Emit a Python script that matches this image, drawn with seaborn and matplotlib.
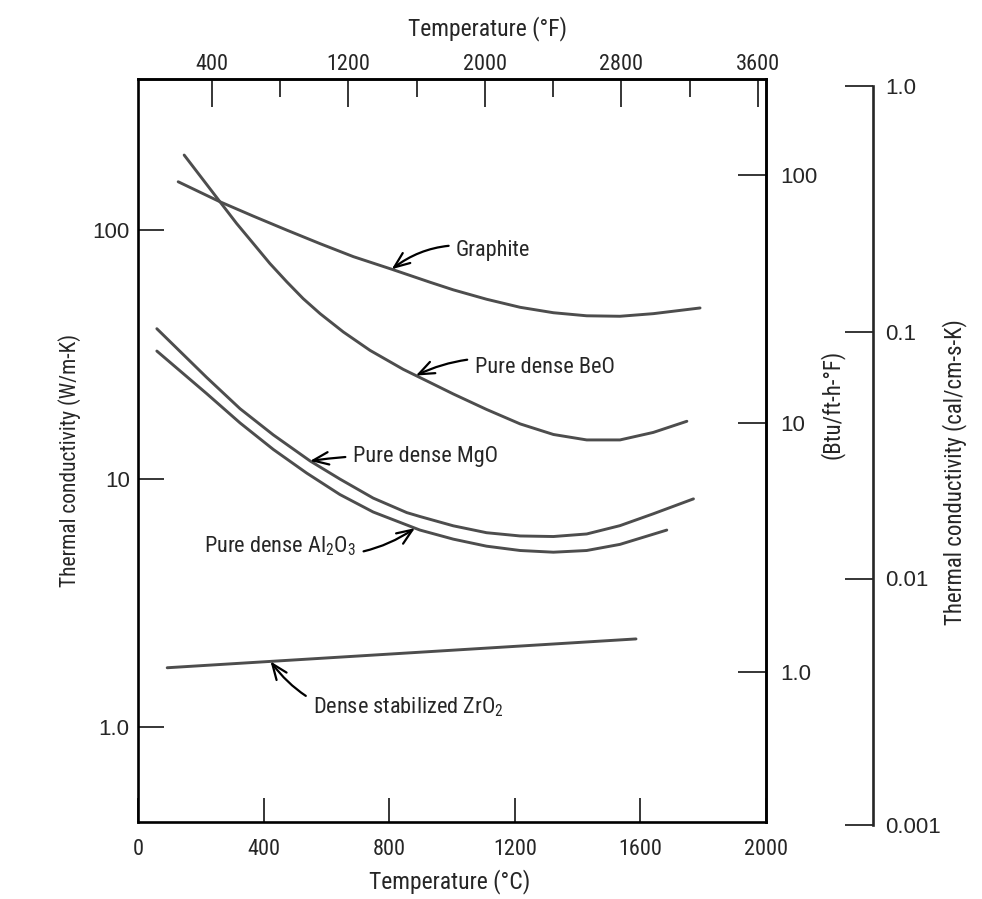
import numpy as np
import pandas as pd
import matplotlib
matplotlib.use("Agg")
import matplotlib.pyplot as plt
import seaborn as sns
from matplotlib import font_manager
from matplotlib.ticker import FixedLocator, NullLocator, FixedFormatter

# ---------------- data ----------------
graphite_T = [128, 261, 367, 474, 580, 686, 808, 930, 1004, 1110, 1217, 1323, 1429, 1535, 1641, 1790]
graphite_k = [156.6, 130.1, 113.9, 100.0, 88.2, 78.2, 69.6, 61.7, 57.5, 52.7, 48.9, 46.5, 45.2, 45.0, 46.1, 48.6]

beo_T = [147, 261, 314, 367, 420, 474, 526, 580, 654, 739, 845, 909, 1004, 1110, 1217, 1323, 1429, 1535, 1641, 1748]
beo_k = [200.6, 130.1, 106.4, 88.4, 73.4, 61.9, 53.0, 46.1, 38.9, 32.8, 27.5, 25.1, 21.9, 18.97, 16.59, 15.04, 14.3, 14.3, 15.33, 17.0]

mgo_T = [60, 219, 325, 431, 548, 643, 749, 856, 898, 1004, 1110, 1217, 1323, 1429, 1535, 1641, 1769]
mgo_k = [40.1, 25.5, 19.1, 14.98, 11.77, 9.95, 8.34, 7.29, 7.03, 6.45, 6.05, 5.87, 5.84, 5.98, 6.46, 7.21, 8.28]

al2o3_T = [60, 219, 325, 431, 537, 643, 749, 898, 1004, 1110, 1217, 1323, 1429, 1535, 1684]
al2o3_k = [32.6, 21.95, 16.74, 13.09, 10.52, 8.62, 7.33, 6.20, 5.70, 5.34, 5.13, 5.05, 5.13, 5.43, 6.20]

zro2_T = [93, 1586]
zro2_k = [1.73, 2.26]

c_ticks = [0, 400, 800, 1200, 1600, 2000]
f_major = [400, 1200, 2000, 2800, 3600]
f_minor = [800, 1600, 2400, 3200]
w_ticks = [1.0, 10, 100]
w_labels = ["1.0", "10", "100"]
btu_ticks = [1.0, 10, 100]
btu_labels = ["1.0", "10", "100"]
cal_ticks = [0.001, 0.01, 0.1, 1.0]
cal_labels = ["0.001", "0.01", "0.1", "1.0"]

# ---------------- style ----------------
sns.set_style("white")
names = {f.name for f in font_manager.fontManager.ttflist}
narrow = "Liberation Sans"
for cand in ["Roboto Condensed", "Liberation Sans Narrow", "Archivo Narrow"]:
    if cand in names:
        narrow = cand
        break
regular = "Liberation Sans"
plt.rcParams["font.family"] = [narrow, "DejaVu Sans"]
plt.rcParams["mathtext.fontset"] = "custom"
plt.rcParams["mathtext.rm"] = narrow
plt.rcParams["mathtext.default"] = "regular"

W, H = 982, 899
fig = plt.figure(figsize=(W / 100, H / 100), dpi=100)
fig.patch.set_facecolor("white")

def fx(px):
    return px / W

def fy(py):
    return 1 - py / H

L, R, T_, B = 138, 766, 79, 822
ax = fig.add_axes([fx(L), fy(B), (R - L) / W, (B - T_) / H])
ax.set_facecolor("white")

curve_color = "#4d4d4d"
series = [
    ("Graphite", graphite_T, graphite_k),
    ("BeO", beo_T, beo_k),
    ("MgO", mgo_T, mgo_k),
    ("Al2O3", al2o3_T, al2o3_k),
    ("ZrO2", zro2_T, zro2_k),
]
frames = [pd.DataFrame({"T": t, "k": k, "material": n}) for n, t, k in series]
df = pd.concat(frames, ignore_index=True)
sns.lineplot(data=df, x="T", y="k", hue="material", estimator=None, sort=False,
             palette={n: curve_color for n, _, _ in series}, lw=2.1,
             legend=False, ax=ax)
for ln in ax.get_lines():
    ln.set_solid_joinstyle("round")
    ln.set_solid_capstyle("round")

ax.set_yscale("log")
ax.set_xlim(0, 2000)
ax.set_ylim(0.414, 406)
ax.set_xlabel("")
ax.set_ylabel("")

for s in ax.spines.values():
    s.set_visible(True)
    s.set_linewidth(1.9)
    s.set_color("black")

tick_fs = 16
ax.xaxis.set_major_locator(FixedLocator(c_ticks))
ax.xaxis.set_minor_locator(NullLocator())
ax.set_xticklabels([str(v) for v in c_ticks])
ax.yaxis.set_major_locator(FixedLocator(w_ticks))
ax.yaxis.set_minor_locator(NullLocator())
ax.yaxis.set_major_formatter(FixedFormatter(w_labels))
ax.tick_params(axis="x", which="major", direction="in", length=17, width=1.3,
               pad=12, labelsize=tick_fs, bottom=True, top=False)
ax.tick_params(axis="y", which="major", direction="in", length=19, width=1.3,
               pad=6, labelsize=tick_fs, left=True, right=False)
for lab in ax.get_yticklabels():
    lab.set_family([regular, "DejaVu Sans"])

# top axis (°F), tick positions as drawn in the reference
def c2f(c):
    return 400 + (np.asarray(c) - 235.7) / 0.5432

def f2c(f):
    return 235.7 + 0.5432 * (np.asarray(f) - 400)

secx = ax.secondary_xaxis("top", functions=(c2f, f2c))
secx.xaxis.set_major_locator(FixedLocator(f_major))
secx.xaxis.set_minor_locator(FixedLocator(f_minor))
secx.set_xticklabels([str(v) for v in f_major])
secx.tick_params(which="major", direction="in", length=20, width=1.3, pad=3, labelsize=tick_fs)
secx.tick_params(which="minor", direction="in", length=13, width=1.3)
secx.spines["top"].set_linewidth(1.9)

# right axis (Btu/ft-h-°F)
secy = ax.secondary_yaxis("right", functions=(lambda w: np.asarray(w) * 0.6,
                                              lambda b: np.asarray(b) / 0.6))
secy.yaxis.set_major_locator(FixedLocator(btu_ticks))
secy.yaxis.set_minor_locator(NullLocator())
secy.yaxis.set_major_formatter(FixedFormatter(btu_labels))
secy.tick_params(which="major", direction="in", length=20, width=1.3, pad=10, labelsize=tick_fs)
secy.spines["right"].set_linewidth(1.9)
for lab in secy.get_yticklabels():
    lab.set_family([regular, "DejaVu Sans"])

# third axis (cal/cm-s-K)
ax3 = fig.add_axes([fx(873), fy(825), 0.0005, (825 - 85.5) / H])
ax3.set_yscale("log")
ax3.set_ylim(0.001, 1.0)
ax3.set_xticks([])
ax3.patch.set_alpha(0)
for k, s in ax3.spines.items():
    s.set_visible(k == "left")
ax3.spines["left"].set_linewidth(1.9)
ax3.yaxis.set_major_locator(FixedLocator(cal_ticks))
ax3.yaxis.set_minor_locator(NullLocator())
ax3.yaxis.set_major_formatter(FixedFormatter(cal_labels))
ax3.tick_params(axis="y", which="major", direction="out", length=20, width=1.3,
                left=True, right=False, labelleft=False, labelright=True,
                pad=-11.5, labelsize=tick_fs)
for lab in ax3.get_yticklabels():
    lab.set_family([regular, "DejaVu Sans"])

# axis titles
fig.text(fx(487), fy(29), "Temperature (°F)", ha="center", va="center", fontsize=17)
fig.text(fx(450), fy(882), "Temperature (°C)", ha="center", va="center", fontsize=17)
fig.text(fx(70), fy(460), "Thermal conductivity (W/m-K)", rotation=90,
         ha="center", va="center", fontsize=15.5)
fig.text(fx(832), fy(404), "(Btu/ft-h-°F)", rotation=90,
         ha="center", va="center", fontsize=16.5)
fig.text(fx(955), fy(472), "Thermal conductivity (cal/cm-s-K)", rotation=90,
         ha="center", va="center", fontsize=16.5)

# annotations
def on_curve(Ts, ks, t):
    return 10 ** np.interp(t, Ts, np.log10(ks))

fs = 16
notes = [
    ("Graphite", graphite_T, graphite_k, 808, (1013, 83.0), "left", 0.25),
    ("Pure dense BeO", beo_T, beo_k, 885, (1072, 28.1), "left", 0.2),
    ("Pure dense MgO", mgo_T, mgo_k, 548, (684, 12.3), "left", 0.05),
    ("Pure dense Al$_2$O$_3$", al2o3_T, al2o3_k, 882, (695, 5.35), "right", 0.25),
    ("Dense stabilized ZrO$_2$", zro2_T, zro2_k, 422, (556, 1.20), "left", -0.35),
]
for text, Ts, ks, t_tip, (tx, ty), ha, rad in notes:
    ax.annotate(text, xy=(t_tip, on_curve(Ts, ks, t_tip)), xytext=(tx, ty),
                ha=ha, va="center", fontsize=fs,
                arrowprops=dict(arrowstyle="->,head_length=0.7,head_width=0.28",
                                color="black", lw=1.6,
                                connectionstyle=f"arc3,rad={rad}",
                                shrinkA=3, shrinkB=0))

fig.savefig("out.png", dpi=100, facecolor="white")
